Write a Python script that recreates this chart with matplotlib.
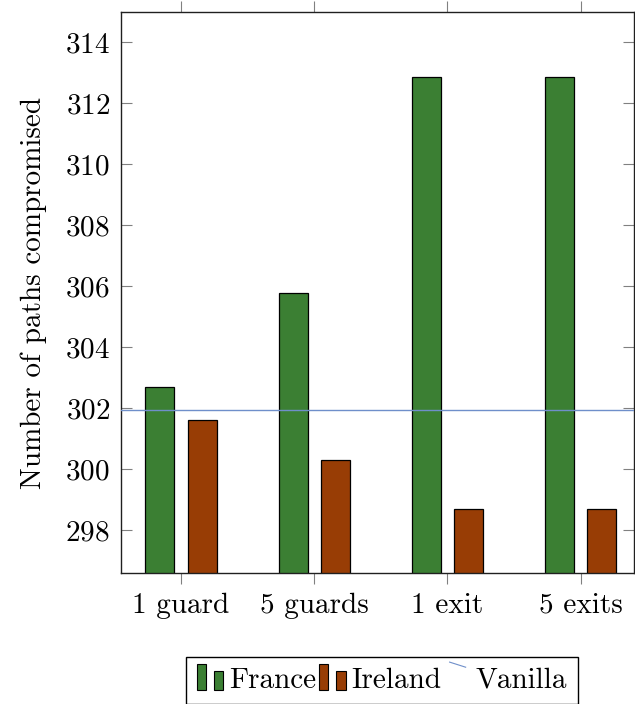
import matplotlib
matplotlib.use("Agg")
from matplotlib import pyplot as plt
from matplotlib.legend_handler import HandlerBase
from matplotlib.patches import Rectangle
from matplotlib.lines import Line2D
import numpy as np

categories = ["1 guard", "5 guards", "1 exit", "5 exits"]
france = [302.7, 305.78, 312.85, 312.85]
ireland = [301.59, 300.28, 298.7, 298.7]
vanilla = 301.93

green = "#3b7f33"
brown = "#983d05"
blue = "#6f8fca"

plt.rcParams["font.family"] = ["cmr10", "DejaVu Serif"]
plt.rcParams["axes.formatter.use_mathtext"] = True
plt.rcParams["font.size"] = 21


class TwoBarHandler(HandlerBase):
    # pgfplots style legend: two small bars
    def create_artists(self, legend, orig_handle, xdescent, ydescent,
                       width, height, fontsize, trans):
        fc = orig_handle.get_facecolor()
        w = width * 0.32
        r1 = Rectangle((-xdescent, -ydescent - height * 0.1), w, height * 1.25,
                       facecolor=fc, edgecolor="black", lw=0.8, transform=trans)
        r2 = Rectangle((-xdescent + width * 0.6, -ydescent - height * 0.1), w, height * 0.9,
                       facecolor=fc, edgecolor="black", lw=0.8, transform=trans)
        return [r1, r2]


class SlantLineHandler(HandlerBase):
    def create_artists(self, legend, orig_handle, xdescent, ydescent,
                       width, height, fontsize, trans):
        l = Line2D([-xdescent + width * 0.2, -xdescent + width * 0.75],
                   [-ydescent + height * 1.25, -ydescent + height * 1.0],
                   color=orig_handle.get_color(), lw=0.8, transform=trans)
        return [l]


fig = plt.figure(figsize=(6.35, 7.04), dpi=100)
ax = fig.add_axes([121 / 635, 1 - 573 / 704, (634 - 121) / 635, (573 - 12) / 704])

x = np.arange(len(categories))
bw = 0.2175
off = 0.159
b1 = ax.bar(x - off, france, bw, bottom=0, color=green, edgecolor="black", linewidth=0.9,
            label="France", zorder=2)
b2 = ax.bar(x + off, ireland, bw, bottom=0, color=brown, edgecolor="black", linewidth=0.9,
            label="Ireland", zorder=2)
vline = ax.axhline(vanilla, color=blue, linewidth=1.0, label="Vanilla", zorder=3)

ax.set_ylim(296.59, 314.98)
ax.set_xlim(-0.45, 3.4)
ax.set_yticks(range(298, 315, 2))
ax.set_xticks(x)
ax.set_xticklabels(categories)
ax.set_ylabel("Number of paths compromised", labelpad=13)

ax.tick_params(axis="x", direction="out", top=True, length=8, width=0.8,
               color="#808080", pad=6)
ax.tick_params(axis="y", direction="in", right=True, length=8, width=0.8,
               color="#808080", pad=8)
for s in ax.spines.values():
    s.set_linewidth(1.0)
    s.set_color("#202020")

fig.legend([b1.patches[0], b2.patches[0], vline], ["France", "Ireland", "Vanilla"],
           loc="upper center", bbox_to_anchor=(382 / 635, 1 - 657 / 704),
           ncol=3, frameon=True, fancybox=False, edgecolor="black",
           handler_map={Rectangle: TwoBarHandler(), Line2D: SlantLineHandler()},
           handlelength=1.0, handletextpad=0.1, columnspacing=0.1,
           borderpad=0.35, borderaxespad=0, framealpha=1)

fig.savefig("out.png", dpi=100)
